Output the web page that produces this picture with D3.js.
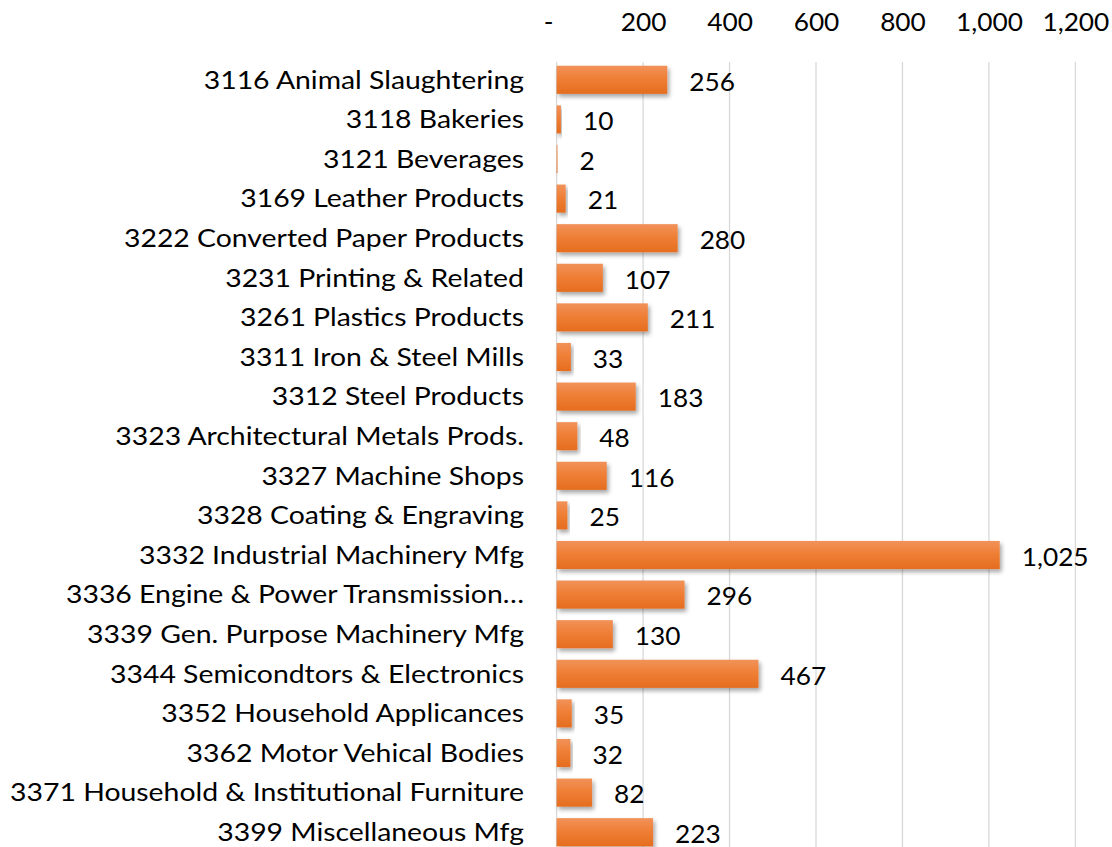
<!DOCTYPE html>
<html>
<head>
<meta charset="utf-8">
<script src="https://cdn.jsdelivr.net/npm/d3@7"></script>
<style>
  body { margin: 0; background: #fff; }
  svg { display: block; font-family: Lato, "Open Sans", sans-serif; }
</style>
</head>
<body>
<script>
// industries and counts, top to bottom
var categories = [
  "3116 Animal Slaughtering",
  "3118 Bakeries",
  "3121 Beverages",
  "3169 Leather Products",
  "3222 Converted Paper Products",
  "3231 Printing & Related",
  "3261 Plastics Products",
  "3311 Iron & Steel Mills",
  "3312 Steel Products",
  "3323 Architectural Metals Prods.",
  "3327 Machine Shops",
  "3328 Coating & Engraving",
  "3332 Industrial Machinery Mfg",
  "3336 Engine & Power Transmission\u2026",
  "3339 Gen. Purpose Machinery Mfg",
  "3344 Semicondtors & Electronics",
  "3352 Household Applicances",
  "3362 Motor Vehical Bodies",
  "3371 Household & Institutional Furniture",
  "3399 Miscellaneous Mfg"
];
var values = [256, 10, 2, 21, 280, 107, 211, 33, 183, 48, 116, 25, 1025, 296, 130, 467, 35, 32, 82, 223];
var tickValues = [0, 200, 400, 600, 800, 1000, 1200];

var width = 1112, height = 847;
var x0 = 556.6, x1 = 1075.4;
var plotTop = 60, step = 39.6;
var fontSize = 25;
var catStretch = 1.135, numStretch = 1.05;   // reference font is wider than Lato

var svg = d3.select("body").append("svg")
    .attr("width", width)
    .attr("height", height);

var defs = svg.append("defs");
var grad = defs.append("linearGradient")
    .attr("id", "barGrad")
    .attr("x1", 0).attr("y1", 0).attr("x2", 0).attr("y2", 1);
grad.append("stop").attr("offset", "0%").attr("stop-color", "#f1925a");
grad.append("stop").attr("offset", "45%").attr("stop-color", "#ef7f36");
grad.append("stop").attr("offset", "100%").attr("stop-color", "#e56d1f");

var shadow = defs.append("filter").attr("id", "shadow")
    .attr("x", "-5%").attr("y", "-20%").attr("width", "120%").attr("height", "160%");
shadow.append("feDropShadow")
    .attr("dx", 2).attr("dy", 3).attr("stdDeviation", 2)
    .attr("flood-color", "#000").attr("flood-opacity", 0.35);

var x = d3.scaleLinear()
    .domain([0, 1200])
    .range([x0, x1]);

var y = d3.scaleBand()
    .domain(categories)
    .range([plotTop, plotTop + step * categories.length])
    .paddingInner(0.29)
    .paddingOuter(0.145);

// gridlines
svg.append("g")
    .selectAll("line")
    .data(tickValues)
    .enter()
    .append("line")
    .attr("x1", function (d) { return x(d); })
    .attr("x2", function (d) { return x(d); })
    .attr("y1", plotTop + 2)
    .attr("y2", height)
    .attr("stroke", "#d9d9d9")
    .attr("stroke-width", 1.3);

// top axis
var fmt = d3.format(",");
var xAxis = d3.axisTop(x)
    .tickValues(tickValues)
    .tickSize(0)
    .tickPadding(0)
    .tickFormat(function (d) { return d === 0 ? "-" : fmt(d); });

var ax = svg.append("g")
    .attr("transform", "translate(0,31)")
    .call(xAxis);
ax.select(".domain").remove();
ax.selectAll("text")
    .attr("font-size", fontSize)
    .attr("font-family", "Lato, 'Open Sans', sans-serif")
    .attr("fill", "#000")
    .attr("dy", 0)
    .attr("x", function (d) { return d === 0 ? -8 : 0; })
    .attr("transform", "scale(" + numStretch + ",1)");

// bars
svg.append("g")
    .selectAll("rect")
    .data(values)
    .enter()
    .append("rect")
    .attr("x", x(0))
    .attr("y", function (d, i) { return y(categories[i]); })
    .attr("width", function (d) { return x(d) - x(0); })
    .attr("height", y.bandwidth())
    .attr("fill", "url(#barGrad)")
    .attr("filter", "url(#shadow)");

// category labels
svg.append("g")
    .selectAll("text")
    .data(categories)
    .enter()
    .append("text")
    .attr("transform", function (d) {
        return "translate(524," + (y(d) + y.bandwidth() / 2) + ") scale(" + catStretch + ",1)";
    })
    .attr("dy", "0.35em")
    .attr("text-anchor", "end")
    .attr("font-size", fontSize)
    .attr("fill", "#000")
    .text(function (d) { return d; });

// value labels
svg.append("g")
    .selectAll("text")
    .data(values)
    .enter()
    .append("text")
    .attr("transform", function (d, i) {
        return "translate(" + (x(d) + 22) + "," + (y(categories[i]) + y.bandwidth() / 2 + 2) + ") scale(" + numStretch + ",1)";
    })
    .attr("dy", "0.35em")
    .attr("font-size", fontSize)
    .attr("fill", "#000")
    .text(function (d) { return fmt(d); });
</script>
</body>
</html>
